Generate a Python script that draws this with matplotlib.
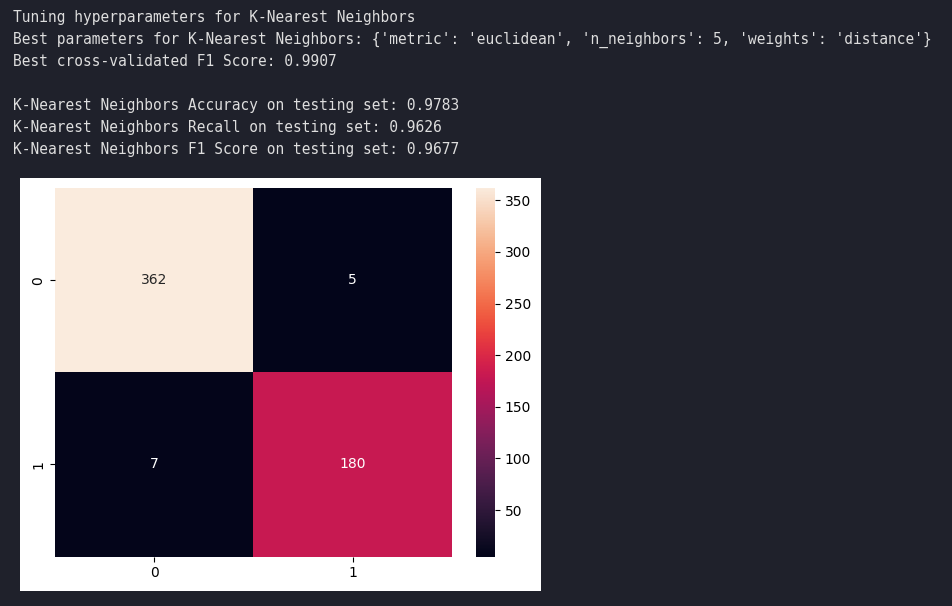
import numpy as np
import matplotlib
matplotlib.use('Agg')
import matplotlib.pyplot as plt
import seaborn as sns

# Texto de salida del notebook
log_lines = [
    "Tuning hyperparameters for K-Nearest Neighbors",
    "Best parameters for K-Nearest Neighbors: {'metric': 'euclidean', 'n_neighbors': 5, 'weights': 'distance'}",
    "Best cross-validated F1 Score: 0.9907",
    "",
    "K-Nearest Neighbors Accuracy on testing set: 0.9783",
    "K-Nearest Neighbors Recall on testing set: 0.9626",
    "K-Nearest Neighbors F1 Score on testing set: 0.9677",
]

# Matriz de confusion
class_labels = ['0', '1']
row_0 = [362, 5]
row_1 = [7, 180]
conf_matrix = np.array([row_0, row_1])

bg_color = '#1f212b'
text_color = '#dedede'

W, H = 953, 606
fig = plt.figure(figsize=(W / 100, H / 100), dpi=100, facecolor=bg_color)

# Lineas de texto (baselines en pixeles)
y0 = 22
for i, line in enumerate(log_lines):
    fig.text(13 / W, 1 - (y0 + 22 * i) / H, line, ha='left', va='baseline',
             fontsize=10.45, family='DejaVu Sans Mono', weight='normal',
             color=text_color)

# Caja blanca de la figura interna (eje de fondo)
ax_bg = fig.add_axes([20.5 / W, 1 - 590.7 / H, 520 / W, 413 / H], zorder=-1)
ax_bg.set_facecolor('white')
ax_bg.set_xticks([])
ax_bg.set_yticks([])
for s in ax_bg.spines.values():
    s.set_visible(False)

top_px, bot_px = 188, 556.5
ax = fig.add_axes([55 / W, 1 - bot_px / H, 397 / W, (bot_px - top_px) / H])
cax = fig.add_axes([476 / W, 1 - bot_px / H, 19 / W, (bot_px - top_px) / H])

sns.heatmap(conf_matrix, annot=True, fmt='d', ax=ax, cbar_ax=cax,
            xticklabels=class_labels, yticklabels=class_labels)
cax.tick_params(labelsize=10)

fig.savefig('out.png', dpi=100, facecolor=bg_color)
